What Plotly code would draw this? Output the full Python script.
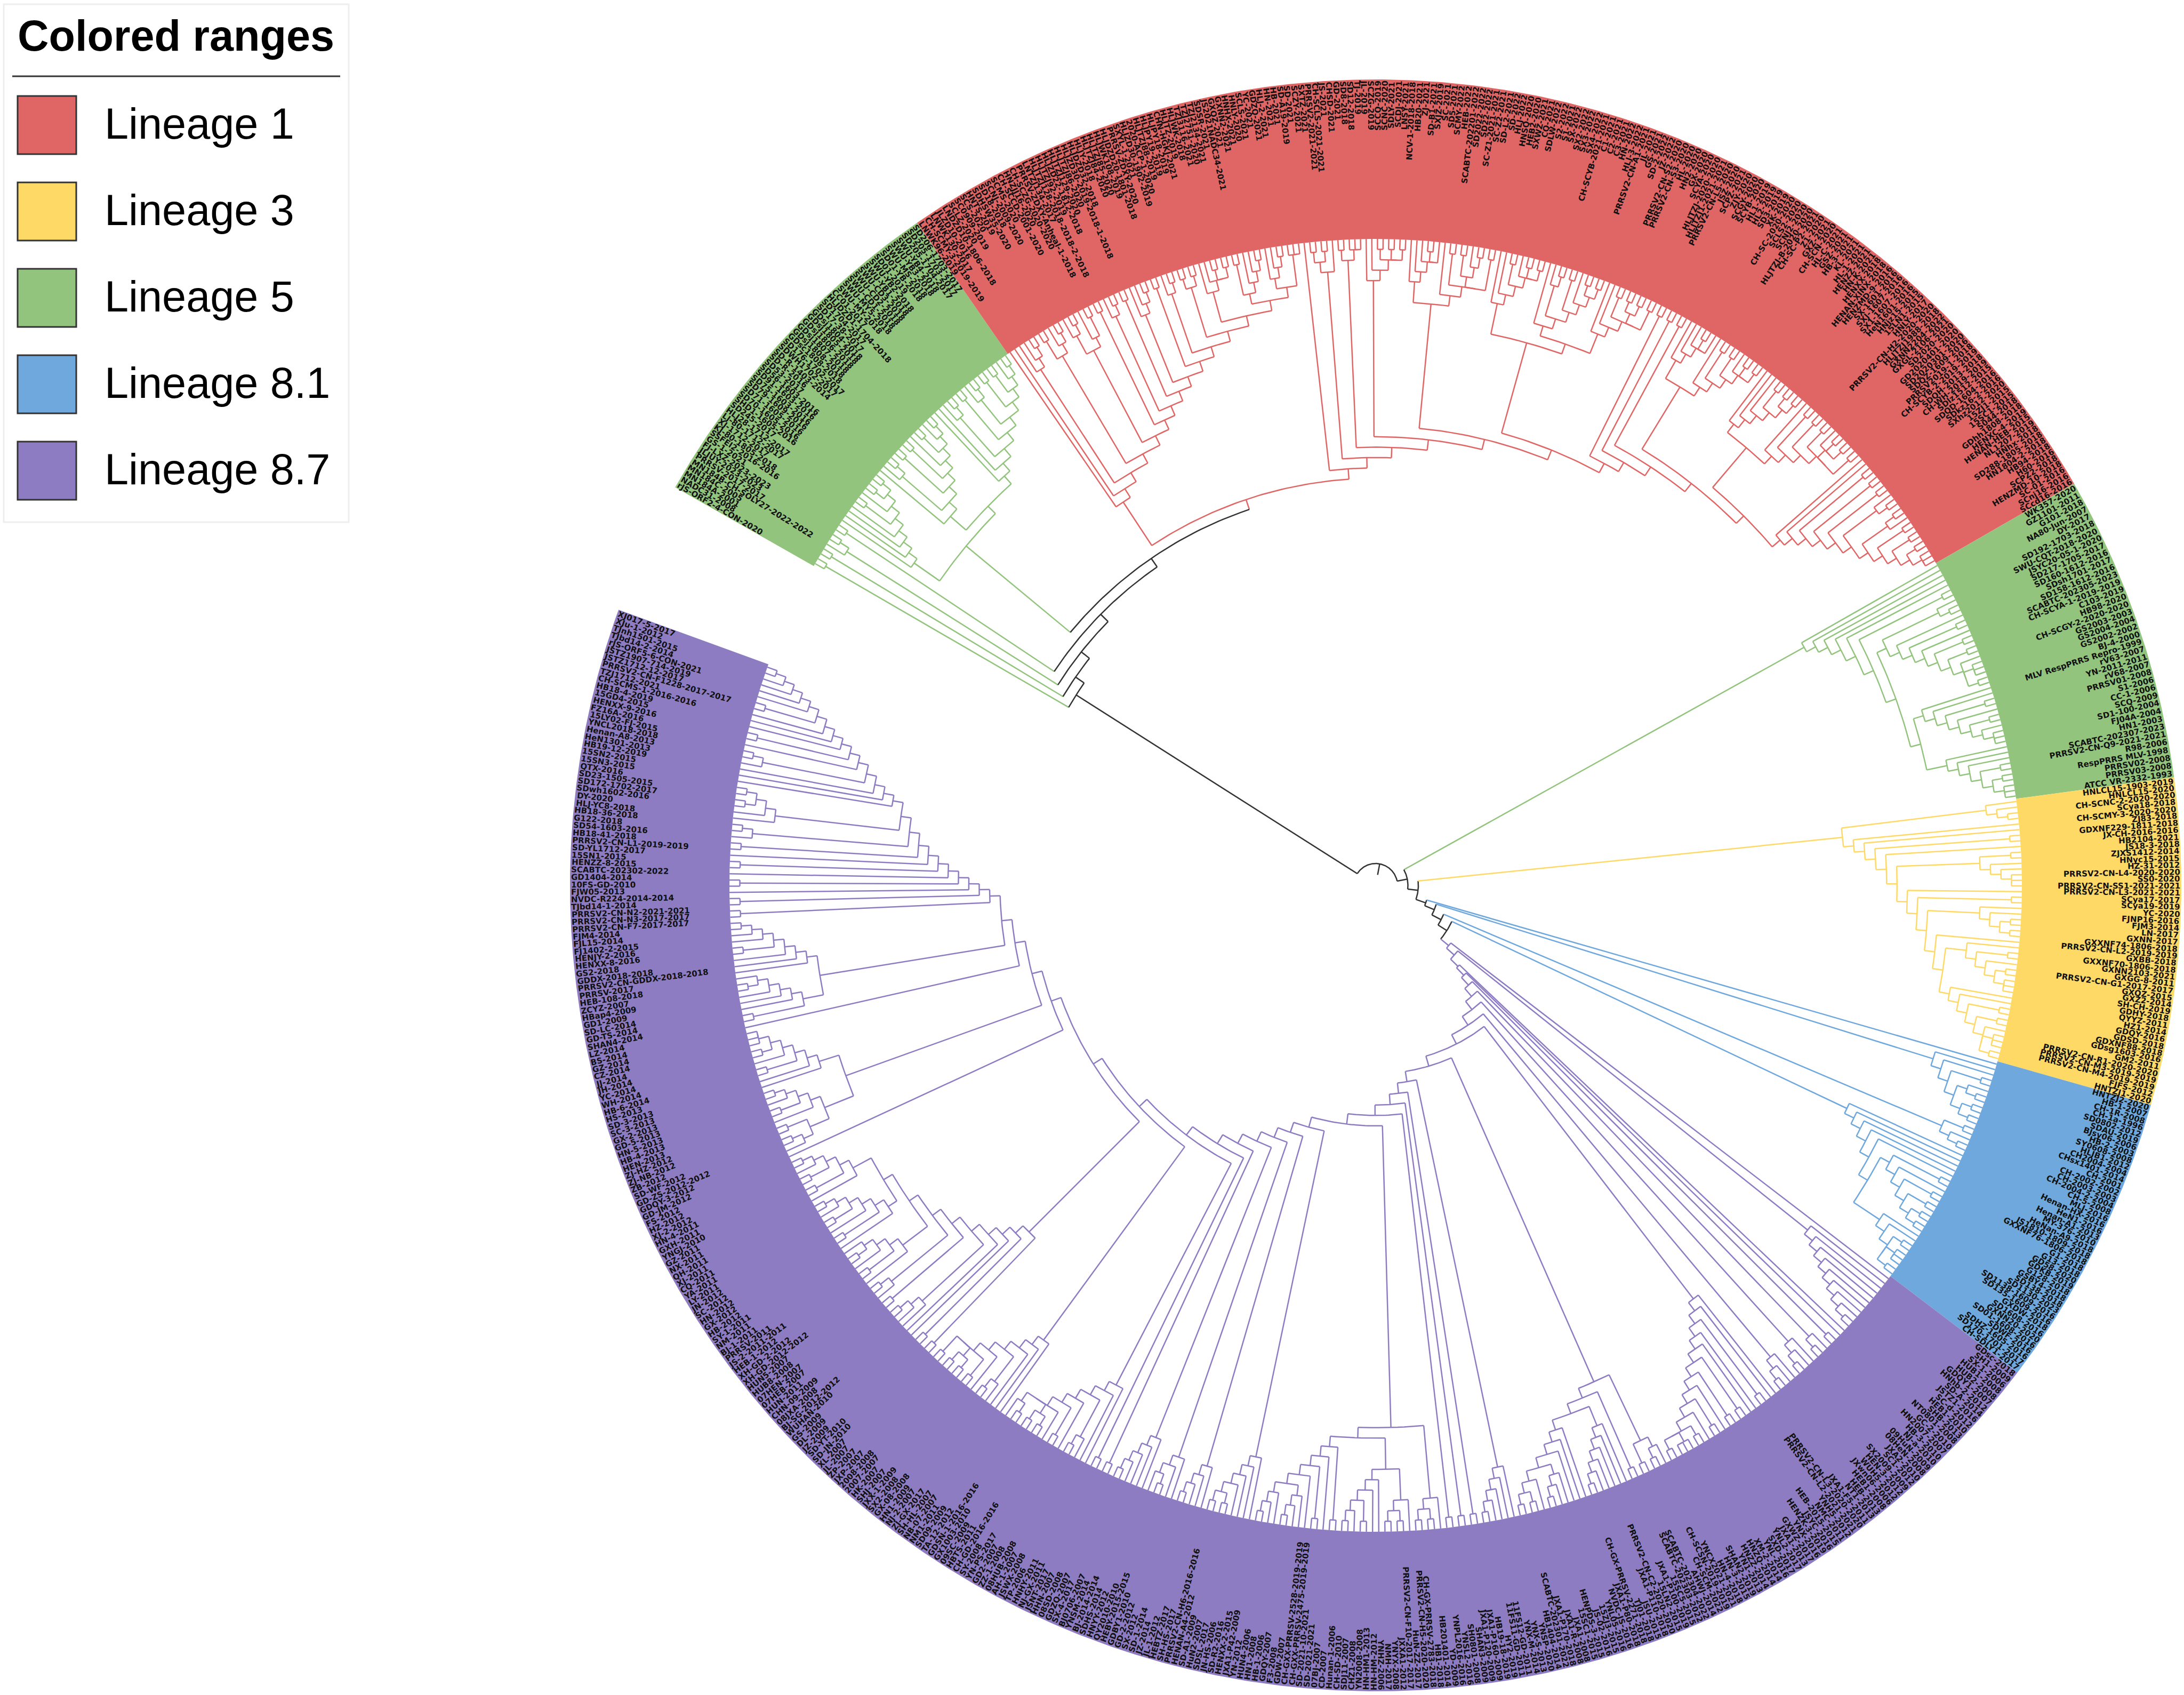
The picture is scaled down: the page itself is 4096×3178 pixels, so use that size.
import math
import plotly.graph_objects as go

LEGEND_TITLE = "Colored ranges"
LINEAGES = ["Lineage 1", "Lineage 3", "Lineage 5", "Lineage 8.1", "Lineage 8.7"]
COLORS = {"Lineage 1": "#E06666", "Lineage 3": "#FFD966", "Lineage 5": "#93C47D",
          "Lineage 8.1": "#6FA8DC", "Lineage 8.7": "#8E7CC3"}

# clockwise order of the ranges round the circle, with their edge angles (degrees, counter-clockwise from east)
RANGE_LINEAGE = ["Lineage 5", "Lineage 1", "Lineage 5", "Lineage 3", "Lineage 8.1", "Lineage 8.7"]
RANGE_EDGES = [150.4, 124.7, 29.9, 7.7, -15.8, -37.2, -200.0]

# merge level between neighbouring tips of each range (tree depth counted from the tips)
L5A_LEVELS = [1, 28, 1, 27, 2, 1, 26, 1, 25,
              8, 7, 6, 5, 1, 4, 3, 1, 2, 1, 11,
              8, 2, 1, 7, 1, 6, 1, 5, 4, 1, 3, 2, 1, 10,
              9, 8, 2, 1, 7, 1, 6, 2, 1, 5, 1, 4, 1, 3, 2, 1]
L1_LEVELS = [18, 17, 3, 2, 1, 16, 1, 3, 2, 1, 15, 2, 1, 4, 3, 1, 14, 1, 13, 2, 1, 12, 1, 11,
             3, 2, 1, 10, 1, 9, 2, 1, 8, 1, 2, 1, 7, 3, 2, 1, 2, 1, 6, 1, 4, 3, 2, 1, 5, 3, 2, 1, 4, 1, 1,
             23, 22, 1, 2, 1, 3, 21, 1, 2, 1, 1, 20, 4, 3, 1, 2, 1, 2, 1, 19,
             4, 3, 2, 1, 2, 6, 5, 1, 4, 1, 3, 2, 1, 4, 1, 18,
             5, 4, 1, 3, 2, 1, 2, 1, 8, 6, 2, 1, 5, 1, 4, 3, 1, 2, 1, 7, 5, 4, 1, 3, 1, 2, 1, 3, 1, 17,
             1, 16, 1, 15, 1, 14,
             4, 3, 2, 1, 2, 6, 5, 1, 4, 1, 3, 2, 1, 2, 1, 13,
             6, 5, 4, 1, 3, 1, 2, 1, 7, 6, 1, 5, 1, 4, 1, 3, 2, 1, 2, 1, 3, 1, 12,
             11, 10, 1, 9, 1, 8, 1, 7, 2, 1, 6, 1, 2, 5, 1, 4, 1, 3, 1, 2, 1, 1]
L5B_LEVELS = [15, 14, 13, 12, 11, 1, 10, 2, 1,
              8, 7, 1, 6, 5, 1, 4, 1, 3, 2, 1, 1, 2, 1, 9,
              7, 6, 1, 5, 4, 1, 3, 2, 1, 1, 8,
              6, 5, 4, 1, 3, 1, 2, 1, 1]
L3_LEVELS = [3, 2, 1, 17, 16, 15, 1, 14, 13, 1, 4, 3, 2, 1, 1, 12, 11, 1, 10,
             4, 3, 1, 2, 1, 9, 8, 5, 1, 4, 3, 1, 2, 1, 1, 7, 6, 5, 1, 4, 1, 3, 2, 1, 1, 2, 1]
L81_LEVELS = [57, 6, 5, 1, 4, 2, 1, 3, 1, 2, 1, 56, 1, 3, 2, 1, 55,
              12, 11, 10, 9, 8, 1, 6, 5, 1, 4, 1, 3, 1, 2, 1, 7, 4, 3, 1, 2, 1, 1, 2, 1]
L87_LEVELS = [53, 9, 8, 7, 6, 5, 4, 3, 2, 1, 52, 51, 50, 1, 49, 2, 1, 48, 3, 2, 1, 47, 3, 2, 1, 46,
              12, 11, 1, 10, 9, 8, 1, 7, 1, 6, 5, 1, 4, 3, 1, 2, 1, 1, 2, 1, 45,
              2, 1, 3, 1, 10, 1, 9, 6, 5, 4, 3, 2, 1, 8, 7, 6, 5, 3, 2, 1, 4, 3, 1, 2, 1, 44,
              5, 4, 3, 2, 1, 43, 1, 42, 1, 41, 1, 40,
              3, 1, 2, 1, 10, 3, 1, 2, 1, 6, 5, 4, 1, 3, 2, 1, 9, 1, 8, 7, 1, 6, 5, 3, 2, 1, 4, 3, 2, 1, 39,
              6, 5, 4, 3, 1, 2, 1, 38, 4, 3, 2, 1, 37, 4, 3, 1, 2, 36, 5, 4, 3, 2, 1, 35, 1, 34, 1, 33,
              8, 7, 2, 1, 6, 5, 1, 4, 3, 1, 2, 1, 3, 1, 2, 32,
              8, 7, 6, 2, 1, 5, 4, 1, 3, 1, 2, 1, 3, 1, 31,
              1, 15, 1, 14, 13, 12, 3, 2, 1, 11, 1, 10, 2, 1, 9, 5, 1, 4, 3, 1, 2, 8,
              6, 1, 5, 4, 1, 3, 2, 1, 7, 5, 1, 4, 1, 3, 2, 1, 30,
              29, 2, 1, 3, 1, 5, 4, 1, 3, 2, 1, 8, 6, 5, 1, 4, 3, 1, 2, 1, 1, 28, 27,
              1, 6, 5, 4, 3, 1, 2, 8, 7, 6, 5, 1, 4, 3, 2, 1, 26,
              1, 25, 1, 24, 23, 1, 22, 21, 1, 20, 19, 1, 18, 2, 1, 17, 4, 3, 1, 2, 1, 16,
              15, 14, 13, 2, 1, 12, 11, 1, 10, 9, 8, 7, 1, 6, 5, 4, 3, 2, 1]
JOIN_LEVELS = [24, 60, 59, 58, 54]

L5A_NAMES = """rJS-ORF2-4-CON-2020 NADC31-2008 MN184A-2001 MN184C-2005 MN184B-CH-SOLY27-2022-2022 PRRSV-2017-2017
JLJUY-2023-2023 FJ-LXZ-2023-2023 GS-1-2021 SSFEI2-2016-2016 KJ-80-1805-2018 XJ-1712-2017 LJ-80-1712-2017 HLJ28-1712-2017
SD245-2017 SHD1-1605-2016 SD70-1605-2016 SD71-1605-2016 SD79-1609-2016 SD75-1603-2016 SD91-1603-2016 SD56-1603-2016
SD53-2017 SD-R-2016 SD-R-1403-2014 SDWH1702-2017 SD176-1702-2017 GDsc1808-2018 GDsj1808-2018 GDsj1807-2018 GDsj1806-2018
GDsj1805-2018 GDsj1804-2018 SD17-38-2017 SD1704-2017 HLJDZD1-1704-2018 CC01-2017 SWU-MY-2018 SWU-MY5-2018 SWU-CD1-2018
SWU-CD2-2018 SWU-CD3-2018 SWU-YB1-2018 SWU-YB2-2018 SD01-2019 SD01-YB-2018 SWU-MS-2018 SWU-YB3-2018 SWU-YB4-2018
SD205-1704-2017 SD205-1703-2017 SD206-1703-2017""".split()

L1_NAMES = """LNWK96-2019 CH-SCMY-3-2019-2019 LNWK130-2017 JLZD10-2016 LNDZD10-1806-2018 SCLZ-2020 SC0909-2019 SCS-2020
HNTS-2019 SDHSW35-2020 SD18-2018 SCNJ-2009-2020 SCMS-2020 CH-SCCD-2001-2020 HNZJJ16-2020 CH-SCZG-2020-2020 PRRSV-ZDXY-Anheal-1-2018
LNTZJ134-2017 HLJTZJ128-2018-2018-2-2018 HLJTZJ92-2019 HLJZD22-1812-2018 HLJTZJ129-2020 HLJTZJ86-2020 HLJZD30-2019-2018-1-2018
HLJDZD32-2018 HLJY-2018 HLJTZJ84-2020 HLJTZJ85-2020 HLJWK108-2019 HLJDZD20-1801-2018 PRRSV-ZDXY-2020 SXYL-1-2021
HLJZD30-1902-2019 2020-ACP-1-2020 HLJTZJ88-2019 HLJPY19-2019 HLJPY18-2019 CHN-HGKJ-2021 HLJTZ-2019 HLJWK-2018
TZJ3116-2021 TZJ2751-2020 TZJ2134-2021 SDSR-2021 JS2021NADC34-2021 GXQZ-2021 GXNN2-2021 HNHX-2021 HNLY-2020 SCLS-2021 YC-2021
GDZQ-2021 HLJ-2-2021 HN-2021 HB-2021 SD-A19-2019 SD-2021 SCZY-2021 SXTZ-2021 PRRSV2-2021-2021 CH-SCLS-2021-2021
JS-2021 CHSD-2021 GD-2021 SD8-2018 SD12-2018 TJ-2019 JL-2019 SCZG-2019 SCCQ-2019 SCNC-2020 SDLY-2021 SCDJ-2021
LNSY-2021 NCV-1-2018-2018 HB20-2021 ZJ-2021 SD-B1-2021 SXJZ-2019 SC-2021 SD5-2021 SCMY-2022 HEB-2022
SCABTC-202201-2022 SD2022-2022 SD22-2022 SC-Z1-2021-2021 SC-Z2-2021 SD-L2-2021 SD-2022 HLJ-2022 HNSQ-2020 HEB2-2020
SXWZ-2021 CQ-2021 SDLW-2022 S2-2022 S1-2021 SX-2022 SX2-2022 SX3-2022 SX4-2022 CH-SCYB-2021-2021 C1-2021 C2-2021 C3-2021
HN-2022 HLJ-3-2022 PRRSV2-CN-A1-2021 JL-2021 GS-2021 SD-2-2022 JZ-2022 PRRSV2-CN-S2-2020 PRRSV2-CN-S3-2020
HL-2020 HN2-2020 GX-2020 SCYA-2020 HLJTZJ-2020-2020 HLJTZJ1-2021-2021 PRRSV2-CN-L5-2020 JSZ-2020 SCPZ-2021 ZJY-2020 SCGY-2020
SCYB-2020 HL1-2019 HL2-2019 SD3-2019 XK-2019 CH-SC-2020-2020 SCLS2-2020 SCNJ2-2020 HLJTZJ-B-2020-2020 CH-SC-P2-2021 Z1-2020
GXZ-2021 CH-SCN-2020 HL-C-2021 GSZ-2021 HB-3-2021 KL-2021 HL-1-2021 HENZZ-2021 HN-K-2021 HENXX-2018 HENAN-XINX-2018
HENZMD-9-2016 SX-1601-2016 SXJ-1607-2016 SX1-1607-2016 HeN1601-2016 HNjz15-2015 15LN1-2015 HNLY-2017
PRRSV2-CN-H2-2020-2020 HLJTZJ1988-2018 GXNN2204-2022 GXGL-2106-2021 SD2020-2020 GD2020401-2020 SD2020301-2020 SDQZ-1609-2016
PRRSV2019-1-2018 CH-SCYB-2-2019-2019 SDQH-2013-2018 CH-WH-2019-2019 SDlz1512-2015 SDQD-1604-2016 SDkz16-2-2016 SXhz2012-2020
15ZJ1-2015 15SC1-2015 S044-2018 GDhh1808-2018 HENXC-4-2019 HENAN-HEB-2015 NL1207-2019 HNhx-2018 SD288-1805-2018 HN1804-2-2018
HB94-2018 H60-2016 SCPZ2-2018 HENZMD-10-2018 SC-01-2016 SCnj16-2016 SCcd16-2016""".split()

L5B_NAMES = """WK357-2020 GZ1101-2011 G101-2018 NA80-Jun-2007 DY-2017 SD192-1703-2018 SWU-CQT-2018-2020 JSYC20-05-1-2020
SD217-1705-2017 SD160-1612-2016 SDsh1701-2017 SD158-1612-2016 SCABTC-202305-2023 CH-SCYA-1-2019-2019 C103-2019 HB98-2020
CH-SCGY-2-2020-2020 GS2003-2003 GS2004-2004 GS2002-2002 BJ-4-2000 MLV~RespPRRS~Repro-1999 rV63-2007 YN-2011-2011 rV68-2007
PRRSV01-2008 S1-2006 CC-1-2006 SCQ-2009 SD1-100-2004 FJ04A-2004 HN1-2003 SCABTC-202307-2023 PRRSV2-CN-Q9-2021-2021
R98-2006 RespPRRS~MLV-1998 PRRSV02-2008 PRRSV03-2008 ATCC~VR-2332-1993""".split()

L3_NAMES = """HNLCL15-1903-2019 HNLCL15-2020 CH-SCNC-2-2020-2020 SCya18-2018 CH-SCMY-3-2020-2020 ZJ83-2018 GDXNF229-1811-2018 JX-CH-2016-2016
HB2104-2021 JS18-3-2018 ZJXS1412-2014 HNyc15-2015 HZ-31-2012 PRRSV2-CN-L4-2020-2020 SS0-2020 PRRSV2-CN-SS1-2021-2021 PRRSV2-CN-L3-2021-2021
SCya17-2017 SCya19-2019 YC-2020 FJNP16-2016 FJM3-2014 LN-2017 GXNN-2017 GXXNF74-1806-2018 PRRSV2-CN-L2-2019-2019 GXBB-2018 GXXNF70-1806-2018
GXNN2103-2021 GXGG-8-2011 PRRSV2-CN-G1-2017-2017 GXQZ-2015 GXZ2-2014 SH-CH-2019 GDHY-2018 QYYZ-2011 HZ1-2014 GDQY-2016 GDSD-2018 GDXNF88-2018
GDsg1603-2016 GM2-2011 PRRSV2-CN-R1-2020-2020 PRRSV2-CN-M3-2019-2019 PRRSV2-CN-M4-2019-2019 FJFS-2012 HNTZJ1-2020""".split()

L81_NAMES = """HNTZJ2-2020 HB-1-2007 CH-1R-2008 CH-1a-1996 SD0802-2012 SDAU-2019 BJsy06-2006 HB-2-2003 SY0608-2008 HLJB1-2012 CH2004-2004
CHsx1401-2014 CH-2001 CH-2002-2002 CH-2003-2003 CH-2004-2-2004 CH-5-2008 MLJ-2016 Henan-HX-2016 HeN1-2016 Henan-A1-2013 MY-376-2010
HeNan-A9-2018 JS1810-1809-2018 GXXNF76-1806-2018 G1-2018 G13-2018 GD58-2020 GDKB-2019 G128-2018 GSBY4-2018 SD138-2018 SD1130-2023
SD1138-1609-2016 SD135-1609-2016 GXDW-2018 SD1608-2016 GXNN20-2020 SD01-1608-2016 SDWF-2016 SDHZ-1605-2016 SD170-1701-2017
CH-SDLY1-2017""".split()

L87_NAMES = """GDsc-2018 SH1-2009 SX-1-2006 HUB1-2008 HUB2-2008 GDQY1-2007 HNhb-2-2012 SD-A-2014 JSTZ1-2016 SC-d-2012 HEB1-2010 SHB-2013
NT0801-2008 GC-2-2010 HN2007-2007 HB-3-2010 NJ-a-2010 09HuN-2009 08HeN-2008 JXA2-2010 SC1-2012 SX2009-2009 HEN-3-2012 WUH5-2012 JXwn06-2006
HEB1-2008 HEB-2013 NT1-2013 JXA1-F5-2011 PRRSV2-CN-L3-2020-2020 PRRSV2-CN-L2-2021-2021 YNH5-2012 NMC-2011 HEB-2015-2015 JSYC-2016
HENZK-3-2019 YNX-2016 GXWZ-2017 JXA1-2013 YNL2-2017 SXD-2017 YNL-2016 XM-2-2014 HNZQ-2014 HNZZ-2014 YN1-2013 SHAN2-2019 HN-3-2015 HN-4-2018
YNCX2021-2021 CH-SCSN-2019-2019 CH-SCM-2022 AHWJ-2014 SCABTC-202304-2022 SCABTC-202303-2022 15SC5-2015 JXA1-P100-2019 15LN2-2015
PRRSV2-CN-C2-2020-2020 JXA1-P110-2018 JSU-2015 TJ01-2018 CH-GX-PRRSV-2271-2018 JXA1-P80-2018 NVDC-JS-2016 YNL05-2016 15ZJ3-2015 JS-02-2016
HENPDS-3-2015 15SC1-2015 JXA1-2008 JXA1-R-2008 JXA1-P170-2018 SCABTC-202301-2022 HB1404-2014 YNSP-2020 YNX-S-2013 YNX-M-2014 11FS12-GD-2011
11FS11-GD-2011 HY2-2019 HB19-18-2019 JXA1-P160-2009 JXA1-P120-2009 SHAN3-2009 SH0801-2008 YNSL2-2016 YNPL2016-2016 YD-2009 HB201401-2014
HB1-2018 CH-GX-PRRSV-2783-2018 PRRSV2-CN-H5-2020-2020 HuN-ZZ-2017 PRRSV2-CN-F10-2017-2017 JXXA1-2012 YNYX-2008 NMH-2017 YNHZ-2006 HN-HM-2012
HN-HM1-2013 YN2008-2008 CHZ1-2008 SDJ11-2007 CH-SD-2010 Hunan-1-2006 CD-2007 07BJ-2007 SD-2021-2021 SD-2021-10-2021 CH-GXX-PRRSV-2475-2019-2019
CH-GXX-PRRSV-2528-2019-2019 GDW-2007 F3-2008 GDQY-2007 HB-1-2006 HN1-2008 HUN4-2006 YN-2012 JXA1-P42-2009 HENXX-2-2015 SD-R2-2016 JN-HS-2006
SDSL-2017 HuN2-2007 SD-A1-2009 HENAN-A4-2012 PRRSV2-CN-H6-2016-2016 SH-HS-2017 HEBTZ-2017 JL-1-2012 JZ-2014 SD-1-2014 SX-2012 GD-2-2012
GDBY1-2010 HEBY-2015-2015 QY2010-2010 HNYY-2012 SDHS-2014 BJ-2014-2014 YNSM-2014 BJ0706-2007 SX-4-2017 GDZQ-2007 08SD-2008 HHN-2007 JSNT-2017
NJ-GX-2011 HNHY-2011 TP-2006 JSWX-2008 AH-1-2007 08HUB-2008 ZZ-1-2008 GD2-2007 YN-PS-2017 SY-2008 CH-GD-2016-2016 HBTS-2011 09SC-2009 GX1003-2010
GDSN-1-2016-2016 TA-12-2012 SD09-2009 NM1-2011 NB-07-2007 SH-HL-2007 ZJ-GX-2017 NJ-2-2007 HN1-2009 GX-08-2008 SX2-2008 JXX-1-2009
SHJ-2007 HK-2007 2007-2007 2008-2008 JXP-2007 ZP-2007 JL-2007 XL-2007 SD-JN-2010 SD-YT-2010 JZ-2009 DL-2009 GS-2009 WUHAN-2010 BJ-SG-2012-2012
08JXA-2008 CHN-09-2009 HUN-2011 07HEB-2007 07HEN-2007 HUB8-2008 HUN5-2007 XH-GD-2012-2012 XH-GD-2-2012 HEB-1-2012 JS-2-2011-2011 PRRSV-2011 BJ-1-2011
NM-2011 SY-1-2011 HB-2012 GX-2012 HN-2012 SC-2012 JN-2012 LY-2011 YA-2011 CQ-2011 XJ-2011 QH-2011 NX-2011 GZ-2011 YNGJ-2010 GXH-2011 HN-4-2011
XJ-2-2012 HZ-2012 FS-2012 GD-JM-2012 GDQY-3-2012 GD-ZS-2012-2012 SD-WF-2012 ZB-2012 ZJ-NB-2012 ZJ-HZ-2012 HEN-2013 HB-4-2013 HN-5-2013 GD-5-2013
GX-2-2013 SC-3-2013 SD-3-2013 HS-2013 HB-6-2014 WH-2014 YC-2014 JH-2014 JJ-2014 CZ-2014 GZ-2014 BS-2014 LZ-2014 SHAN4-2014 GD-TS-2014 SD-LC-2014
GD1-2009 HBap4-2009 ZCYZ-2007 HEB-108-2018 PRRSV-2017 PRRSV2-CN-GDDX-2018-2018 GDDX-2018-2018 GS2-2018 HENXX-8-2016 HENJY-2-2016 FJ1402-2-2015
FJL15-2014 FJM4-2014 PRRSV2-CN-F7-2017-2017 PRRSV2-CN-N3-2017-2017 PRRSV2-CN-N2-2021-2021 TJbd14-1-2014 NVDC-R224-2014-2014 FJW05-2013 10FS-GD-2010
GD1404-2014 SCABTC-202302-2022 HENZZ-8-2015 15SN1-2015 SD-YL1712-2017 PRRSV2-CN-L1-2019-2019 HB18-41-2018 SD54-1603-2016 G122-2018 HB18-36-2018
HLJ-YC8-2018 DY-2020 SDwh1602-2016 SD172-1702-2017 SD23-1505-2015 QTX-2016 15SN3-2015 15SN2-2015 HB19-12-2019 HeN1301-2013 Henan-A8-2013
YNCL2018-2018 15LY02-FJ-2015 FZ16A-2016 HENXX-9-2016 15GD4-2015 HB18-4-2019 CH-SCMS-1-2016-2016 TZJ1712-2021 PRRSV2-CN-F1228-2017-2017
JSTZ1712-12-2017 JSTZ1907-714-2019 rJS-ORF5-6-CON-2021 TJbd14-2-2014 TJnh1501-2015 XJu-1-2012 XJ017-5-2017""".split()

RANGE_LEVELS = [L5A_LEVELS, L1_LEVELS, L5B_LEVELS, L3_LEVELS, L81_LEVELS, L87_LEVELS]
RANGE_NAMES = [L5A_NAMES, L1_NAMES, L5B_NAMES, L3_NAMES, L81_NAMES, L87_NAMES]

W, H = 4096, 3178
CX, CY = 2580, 1660
R_OUT, R_IN = 1511, 1212
STEP = (R_IN - 41) / 60


def xy(r, deg):
    a = math.radians(deg)
    return CX + r * math.cos(a), CY - r * math.sin(a)


# tips and gaps, in clockwise order
tip_angle, tip_colour, gaps = [], [], []
for k, levels in enumerate(RANGE_LEVELS):
    n = len(levels) + 1
    a0, a1 = RANGE_EDGES[k], RANGE_EDGES[k + 1]
    for j in range(n):
        tip_angle.append(a0 + (a1 - a0) * (j + 0.5) / n)
        tip_colour.append(COLORS[RANGE_LINEAGE[k]])
    gaps.extend(levels)
    if k < len(JOIN_LEVELS):
        gaps.append(JOIN_LEVELS[k])

segments = {}


def add(colour, pts):
    seg = segments.setdefault(colour, ([], []))
    for p in pts:
        seg[0].append(p[0])
        seg[1].append(p[1])
    seg[0].append(None)
    seg[1].append(None)


def build(lo, hi):
    if lo == hi:
        return R_IN, tip_angle[lo], tip_colour[lo]
    best = max(gaps[lo:hi])
    cut = lo + gaps[lo:hi].index(best)
    r = R_IN - STEP * best
    left = build(lo, cut)
    right = build(cut + 1, hi)
    colour = left[2] if left[2] == right[2] else "#333333"
    for child in (left, right):
        add(child[2], [xy(r, child[1]), xy(child[0], child[1])])
    n = max(2, int(abs(left[1] - right[1]) / 0.7) + 2)
    add(colour, [xy(r, left[1] + (right[1] - left[1]) * i / (n - 1)) for i in range(n)])
    return r, (left[1] + right[1]) / 2, colour


root_r, root_a, root_c = build(0, len(tip_angle) - 1)
add("#333333", [xy(root_r, root_a), xy(20, root_a)])

fig = go.Figure()
for k, lin in enumerate(RANGE_LINEAGE):
    a0, a1 = RANGE_EDGES[k], RANGE_EDGES[k + 1]
    n = int(abs(a0 - a1) * 3) + 2
    outer = [xy(R_OUT, a0 + (a1 - a0) * i / (n - 1)) for i in range(n)]
    inner = [xy(R_IN, a1 + (a0 - a1) * i / (n - 1)) for i in range(n)]
    pts = outer + inner + outer[:1]
    fig.add_trace(go.Scatter(x=[p[0] for p in pts], y=[p[1] for p in pts], mode="lines", fill="toself",
                             fillcolor=COLORS[lin], line=dict(width=0), hoverinfo="skip", showlegend=False))
for colour, (xs, ys) in segments.items():
    fig.add_trace(go.Scatter(x=xs, y=ys, mode="lines", line=dict(color=colour, width=2.5),
                             hoverinfo="skip", showlegend=False))

CHAR_W = {"A": .774, "B": .762, "C": .734, "D": .830, "E": .683, "F": .683, "G": .821, "H": .837, "I": .372, "J": .372,
          "K": .775, "L": .637, "M": .995, "N": .837, "O": .850, "P": .733, "Q": .850, "R": .770, "S": .720, "T": .682,
          "U": .812, "V": .774, "W": 1.103, "X": .771, "Y": .724, "Z": .725, "a": .675, "b": .716, "c": .593, "d": .716,
          "e": .678, "f": .435, "g": .716, "h": .712, "i": .343, "j": .343, "k": .665, "l": .343, "m": 1.042, "n": .712,
          "o": .687, "p": .716, "q": .716, "r": .493, "s": .595, "t": .478, "u": .712, "v": .652, "w": .924, "x": .645,
          "y": .652, "z": .582, "-": .415, " ": .348}
LABEL_SIZE = 15

annotations = []
for k, names in enumerate(RANGE_NAMES):
    a0, a1 = RANGE_EDGES[k], RANGE_EDGES[k + 1]
    for j, raw in enumerate(names):
        name = raw.replace("~", " ")
        deg = a0 + (a1 - a0) * (j + 0.5) / len(names)
        width = sum(CHAR_W.get(c, .696) for c in name) * LABEL_SIZE
        x, y = xy(R_OUT - 2 - width / 2, deg)
        norm = (deg + 180) % 360 - 180
        angle = -norm if abs(norm) <= 90 else 180 - norm
        annotations.append(dict(x=x, y=y, xref="x", yref="y", text=name, showarrow=False, textangle=angle,
                                xanchor="center", yanchor="middle",
                                font=dict(family="DejaVu Sans", size=LABEL_SIZE, color="#111111", weight=700)))

# legend block
shapes = [dict(type="rect", xref="x", yref="y", x0=7, x1=654, y0=8, y1=979, fillcolor="white",
               line=dict(color="#EEEEEE", width=3), layer="below"),
          dict(type="line", xref="x", yref="y", x0=23, x1=638, y0=143, y1=143, line=dict(color="#333333", width=3))]
annotations.append(dict(x=330, y=67, xref="x", yref="y", text=LEGEND_TITLE, showarrow=False, xanchor="center",
                        yanchor="middle", font=dict(family="Liberation Sans", size=81, color="black", weight=700)))
SWATCH_TOPS = [180, 342, 504, 666, 828]
for top, lin in zip(SWATCH_TOPS, LINEAGES):
    shapes.append(dict(type="rect", xref="x", yref="y", x0=33, x1=143, y0=top, y1=top + 109,
                       fillcolor=COLORS[lin], line=dict(color="#333333", width=3)))
    annotations.append(dict(x=194, y=top + 52, xref="x", yref="y", text=lin, showarrow=False, xanchor="left",
                            yanchor="middle", font=dict(family="Liberation Sans", size=81, color="black")))

fig.update_layout(width=W, height=H, margin=dict(l=0, r=0, t=0, b=0), paper_bgcolor="white", plot_bgcolor="white",
                  showlegend=False, hovermode=False, shapes=shapes, annotations=annotations,
                  xaxis=dict(range=[0, W], visible=False, fixedrange=True),
                  yaxis=dict(range=[H, 0], visible=False, fixedrange=True))
fig.write_html("out.html", config={"displayModeBar": False}, post_script="document.body.style.margin='0';")
